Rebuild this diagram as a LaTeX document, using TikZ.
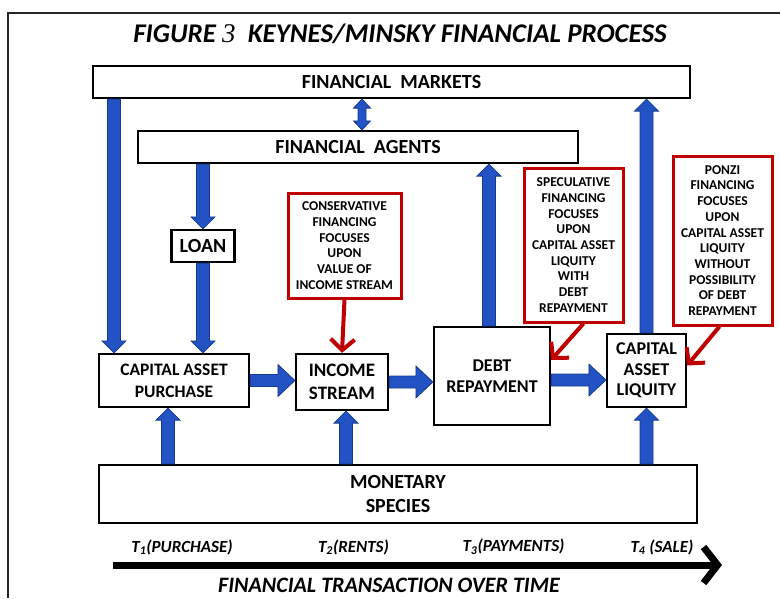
\documentclass[tikz,border=0pt]{standalone}
\usepackage{fontspec}
\setmainfont{Carlito}
\newfontfamily\numfont{Liberation Serif}
\usetikzlibrary{arrows.meta,calc}

\definecolor{flowblue}{HTML}{2352C4}
\definecolor{flowedge}{HTML}{163A8C}
\definecolor{notered}{HTML}{C00000}

\tikzset{
  box/.style={draw=black, line width=2.2pt, fill=white, inner sep=0pt, align=center,
    font=\bfseries\fontsize{20}{24}\selectfont},
  note/.style={draw=notered, line width=3pt, fill=white, inner sep=0pt, align=center,
    font=\bfseries\fontsize{13.5}{15.7}\selectfont},
  redarrow/.style={draw=notered, line width=4pt, -{Straight Barb[length=11pt,width=24pt]}},
  % block arrow: #1 half shaft width, #2 half head width, #3 head length
  blockarrow/.style n args={3}{fill=flowblue, draw=flowedge, line width=0.8pt, to path={
    let \p1=(\tikztostart), \p2=(\tikztotarget),
        \n1={atan2(\y2-\y1,\x2-\x1)}, \n2={veclen(\x2-\x1,\y2-\y1)} in
    ([shift={(\p1)},rotate=\n1]0pt,-#1)
    -- ([shift={(\p1)},rotate=\n1]\n2-#3,-#1)
    -- ([shift={(\p1)},rotate=\n1]\n2-#3,-#2)
    -- ([shift={(\p1)},rotate=\n1]\n2-0pt,0pt)
    -- ([shift={(\p1)},rotate=\n1]\n2-#3,#2)
    -- ([shift={(\p1)},rotate=\n1]\n2-#3,#1)
    -- ([shift={(\p1)},rotate=\n1]0pt,#1) -- cycle}},
  % two-headed block arrow
  dblarrow/.style n args={3}{fill=flowblue, draw=flowedge, line width=0.8pt, to path={
    let \p1=(\tikztostart), \p2=(\tikztotarget),
        \n1={atan2(\y2-\y1,\x2-\x1)}, \n2={veclen(\x2-\x1,\y2-\y1)} in
    ([shift={(\p1)},rotate=\n1]0pt,0pt)
    -- ([shift={(\p1)},rotate=\n1]#3,-#2)
    -- ([shift={(\p1)},rotate=\n1]#3,-#1)
    -- ([shift={(\p1)},rotate=\n1]\n2-#3,-#1)
    -- ([shift={(\p1)},rotate=\n1]\n2-#3,-#2)
    -- ([shift={(\p1)},rotate=\n1]\n2-0pt,0pt)
    -- ([shift={(\p1)},rotate=\n1]\n2-#3,#2)
    -- ([shift={(\p1)},rotate=\n1]\n2-#3,#1)
    -- ([shift={(\p1)},rotate=\n1]#3,#1)
    -- ([shift={(\p1)},rotate=\n1]#3,#2) -- cycle}},
  vflow/.style={blockarrow={6.5pt}{12pt}{12pt}},
  hflow/.style={blockarrow={6pt}{16pt}{17pt}},
  tlabel/.style={font=\bfseries\itshape\fontsize{17}{19}\selectfont},
}

\begin{document}
\begin{tikzpicture}[x=1pt,y=-1pt]
\useasboundingbox (0,0) rectangle (780,598);

% frame
\draw[line width=1.6pt, black!85] (8,598) -- (8,13) -- (780,13);

% title
\node[font=\bfseries\itshape\fontsize{27}{30}\selectfont] (title) at (400,34)
  {FIGURE\ {\numfont\mdseries 3}\ \ KEYNES/MINSKY\ FINANCIAL PROCESS};

% blocks
\node[box, minimum width=597pt, minimum height=32pt] (mkt) at (391.5,82) {FINANCIAL\ \ MARKETS};
\node[box, minimum width=440pt, minimum height=32pt] (agt) at (358,147) {FINANCIAL\ \ AGENTS};
\node[box, minimum width=63pt, minimum height=32pt] (loan) at (203,246) {LOAN};
\node[box, minimum width=150pt, minimum height=53pt, font=\bfseries\fontsize{17.5}{22}\selectfont] (cap) at (174,380.5) {CAPITAL ASSET\\PURCHASE};
\node[box, minimum width=92pt, minimum height=56pt, font=\bfseries\fontsize{19}{23}\selectfont] (inc) at (342,382) {INCOME\\STREAM};
\node[box, minimum width=116pt, minimum height=98pt, font=\bfseries\fontsize{18}{21}\selectfont] (debt) at (492,376) {DEBT\\REPAYMENT};
\node[box, minimum width=79pt, minimum height=73pt, font=\bfseries\fontsize{18}{20.5}\selectfont] (cal) at (646.5,370.5) {CAPITAL\\ASSET\\LIQUITY};
\node[box, minimum width=598pt, minimum height=58pt] (mon) at (398,494) {MONETARY\\SPECIES};

% notes
\node[note, minimum width=113pt, minimum height=105pt] (cons) at (344.5,245.5)
  {CONSERVATIVE\\FINANCING\\FOCUSES\\UPON\\VALUE OF\\INCOME STREAM};
\node[note, minimum width=99pt, minimum height=154pt] (spec) at (573.5,245)
  {SPECULATIVE\\FINANCING\\FOCUSES\\UPON\\CAPITAL ASSET\\LIQUITY\\WITH\\DEBT\\REPAYMENT};
\node[note, minimum width=99pt, minimum height=169pt] (ponzi) at (722.5,240.5)
  {PONZI\\FINANCING\\FOCUSES\\UPON\\CAPITAL ASSET\\LIQUITY\\WITHOUT\\POSSIBILITY\\OF DEBT\\REPAYMENT};

% arrow columns and rows
\coordinate (colA) at (114,0);
\coordinate (colB) at (362,0);
\coordinate (colC) at (489,0);
\coordinate (colD) at (168,0);
\coordinate (colE) at (346,0);
\coordinate (rowA) at (0,380);

% blue flows
\path[vflow] (colA |- mkt.south) to (colA |- cap.north);
\path[vflow] (loan |- agt.south) to (loan.north);
\path[vflow] (loan.south) to (loan |- cap.north);
\path[dblarrow={4pt}{8.5pt}{9pt}] (colB |- mkt.south) to (colB |- agt.north);
\path[vflow] (colC |- debt.north) to (colC |- agt.south);
\path[vflow] (cal.north) to (cal |- mkt.south);
\path[vflow] (colD |- mon.north) to (colD |- cap.south);
\path[vflow] (colE |- mon.north) to (colE |- inc.south);
\path[vflow] (cal |- mon.north) to (cal.south);
\path[hflow] (cap.east) to (inc.west |- cap.east);
\path[hflow] (inc.east) to (debt.west |- inc.east);
\path[hflow] (debt.east |- rowA) to (cal.west |- rowA);

% red pointers
\draw[redarrow] (cons.south) -- (inc.north);
\draw[redarrow] ([xshift=10pt]spec.south) -- ([yshift=16pt]debt.east);
\draw[redarrow] ([xshift=-3pt]ponzi.south) -- ([yshift=5pt]cal.east);

% time axis
\node[tlabel] (t1) at (182,547) {T\textsubscript{1}(PURCHASE)};
\node[tlabel] (t2) at (353.5,547) {T\textsubscript{2}(RENTS)};
\node[tlabel] (t3) at (513.5,547) {T\textsubscript{3}(PAYMENTS)};
\node[tlabel] (t4) at (662,547) {T\textsubscript{4} (SALE)};
\coordinate (axs) at (113,565);
\coordinate (axe) at (722,565);
\draw[line width=7pt, -{Straight Barb[length=14pt,width=36pt]}] (axs) -- (axe);
\node[font=\bfseries\itshape\fontsize{22}{24}\selectfont] (cap2) at (389,585) {FINANCIAL TRANSACTION OVER TIME};
\end{tikzpicture}
\end{document}
